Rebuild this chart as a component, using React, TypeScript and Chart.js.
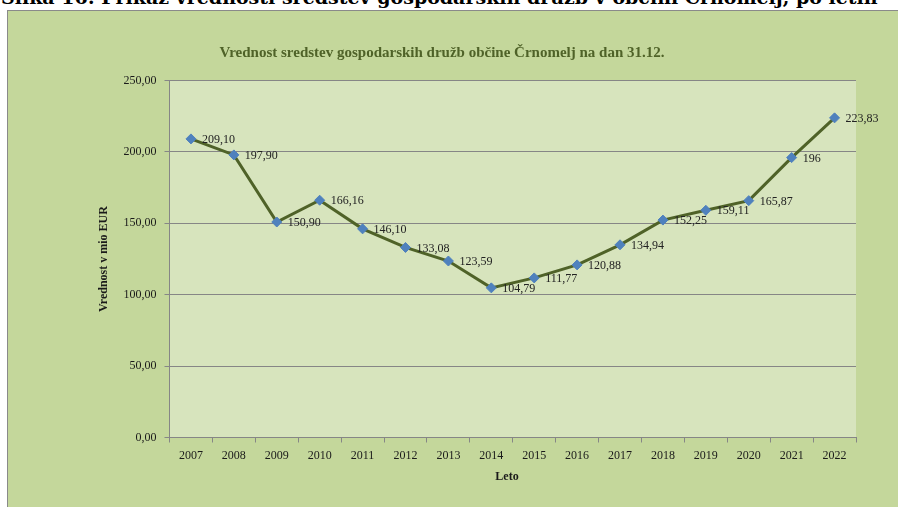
import React, { useEffect, useRef } from "react";
import { Chart, registerables } from "chart.js";

Chart.register(...registerables);

const years = ["2007","2008","2009","2010","2011","2012","2013","2014","2015","2016","2017","2018","2019","2020","2021","2022"];
const values = [209.10, 197.90, 150.90, 166.16, 146.10, 133.08, 123.59, 104.79, 111.77, 120.88, 134.94, 152.25, 159.11, 165.87, 196, 223.83];
const valueLabels = ["209,10","197,90","150,90","166,16","146,10","133,08","123,59","104,79","111,77","120,88","134,94","152,25","159,11","165,87","196","223,83"];
const chartTitle = "Vrednost sredstev gospodarskih družb občine Črnomelj na dan 31.12.";
const yTitle = "Vrednost v mio EUR";
const xTitle = "Leto";
const caption = "Slika 16: Prikaz vrednosti sredstev gospodarskih družb v občini Črnomelj, po letih";

const FONT = "'Liberation Serif', 'DejaVu Serif', serif";

const decorPlugin = {
  id: "decor",
  beforeDraw(chart: any) {
    const { ctx, width, height, chartArea } = chart;
    ctx.save();
    ctx.fillStyle = "#c4d79b";
    ctx.fillRect(0, 0, width, height);
    ctx.strokeStyle = "#8a8a8a";
    ctx.lineWidth = 1;
    ctx.strokeRect(0.5, 0.5, width, height);
    ctx.fillStyle = "#d7e4bd";
    ctx.fillRect(chartArea.left, chartArea.top, chartArea.right - chartArea.left, chartArea.bottom - chartArea.top);
    ctx.restore();
  },
  afterDraw(chart: any) {
    const { ctx } = chart;
    ctx.save();
    ctx.fillStyle = "#4f6228";
    ctx.font = `bold 15px ${FONT}`;
    ctx.textAlign = "center";
    ctx.textBaseline = "middle";
    ctx.fillText(chartTitle, 435, 43);
    ctx.fillStyle = "#1a1a1a";
    ctx.font = `bold 12px ${FONT}`;
    ctx.fillText(xTitle, 500, 467);
    ctx.translate(97, 249);
    ctx.rotate(-Math.PI / 2);
    ctx.fillText(yTitle, 0, 0);
    ctx.restore();
  },
  afterDatasetsDraw(chart: any) {
    const { ctx } = chart;
    const meta = chart.getDatasetMeta(0);
    ctx.save();
    ctx.fillStyle = "#222222";
    ctx.font = `12px ${FONT}`;
    ctx.textAlign = "left";
    ctx.textBaseline = "middle";
    meta.data.forEach((pt: any, i: number) => {
      ctx.fillText(valueLabels[i], pt.x + 11, pt.y + 1);
    });
    ctx.restore();
  },
};

export default function App() {
  const ref = useRef<HTMLCanvasElement>(null);
  useEffect(() => {
    if (!ref.current) return;
    const chart = new Chart(ref.current, {
      type: "line",
      data: {
        labels: years,
        datasets: [
          {
            data: values,
            borderColor: "#4f6228",
            borderWidth: 3,
            tension: 0,
            pointStyle: "rectRot",
            pointRadius: 5,
            pointBackgroundColor: "#4f81bd",
            pointBorderColor: "#4f81bd",
            pointBorderWidth: 1,
          },
        ],
      },
      options: {
        animation: false,
        responsive: false,
        devicePixelRatio: 1,
        layout: { padding: { top: 70.5, right: 51, left: 0, bottom: 0 } },
        plugins: { legend: { display: false }, tooltip: { enabled: false }, title: { display: false } },
        scales: {
          x: {
            type: "category",
            offset: true,
            grid: { display: true, drawOnChartArea: false, offset: true, tickLength: 5, color: "#868686" },
            border: { color: "#868686" },
            ticks: { color: "#1a1a1a", font: { family: FONT, size: 12 }, padding: 6, maxRotation: 0, autoSkip: false },
            afterFit: (s: any) => { s.height = 72.5; },
          },
          y: {
            min: 0,
            max: 250,
            grid: { color: "#868686", tickLength: 5 },
            border: { color: "#868686" },
            ticks: {
              stepSize: 50,
              color: "#1a1a1a",
              font: { family: FONT, size: 12 },
              padding: 8,
              callback: (v: any) => Number(v).toFixed(2).replace(".", ","),
            },
            afterFit: (s: any) => { s.width = 162.5; },
          },
        },
      },
      plugins: [decorPlugin],
    });
    return () => chart.destroy();
  }, []);

  return (
    <div style={{ position: "absolute", left: 0, top: 0, width: 898, height: 507, overflow: "hidden", background: "#ffffff" }}>
      <div
        style={{
          position: "absolute",
          left: 1,
          top: -13,
          whiteSpace: "nowrap",
          fontFamily: "'DejaVu Serif', serif",
          fontWeight: "bold",
          fontSize: 19,
          lineHeight: "20px",
          color: "#000",
        }}
      >
        {caption}
      </div>
      <canvas ref={ref} width={900} height={500} style={{ position: "absolute", left: 7, top: 10, width: 900, height: 500 }} />
    </div>
  );
}
